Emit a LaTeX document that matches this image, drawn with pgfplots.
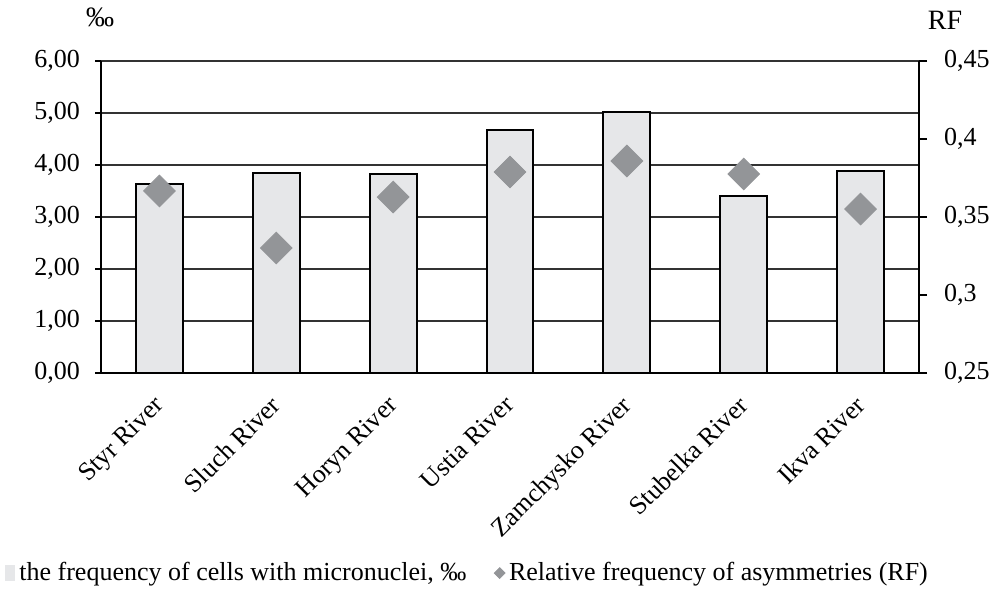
\documentclass[border=0pt]{standalone}
\usepackage{pgfplots}
\pgfplotsset{compat=1.18}
\usepackage{fontspec}
\setmainfont{Liberation Serif}
\definecolor{barfill}{HTML}{E6E7E9}
\definecolor{diam}{HTML}{939598}
\definecolor{gridc}{HTML}{333333}

\pgfplotstableread{
x mn rf
0 3.63 0.3667
1 3.85 0.3301
2 3.83 0.3628
3 4.67 0.3788
4 5.02 0.3859
5 3.40 0.3776
6 3.88 0.3551
}\rivers

\begin{document}
\begin{tikzpicture}
\pgfplotsset{
  every axis/.append style={
    scale only axis,
    width=409pt, height=156pt,
    xmin=-0.5, xmax=6.5,
    font=\fontsize{13}{15}\selectfont,
    tick label style={font=\fontsize{13}{15}\selectfont},
    /pgf/number format/assume math mode=true,
    tick align=outside,
    major tick length=3pt,
    axis line style={line width=1pt},
  }
}
\begin{axis}[
  name=ax1,
  axis y line*=left,
  axis x line*=bottom,
  ymin=0, ymax=6,
  ytick={0,1,...,6},
  ymajorgrids,
  grid style={gridc, line width=0.55pt},
  yticklabel style={xshift=-4pt, /pgf/number format/.cd, use comma, fixed, fixed zerofill, precision=2},
  xtick={0,...,6},
  xticklabels={Styr River, Sluch River, Horyn River, Ustia River, Zamchysko River, Stubelka River, Ikva River},
  x tick label style={anchor=north east, inner sep=1pt, xshift=-3.5pt, yshift=-6pt, rotate=45},
  xtick style={draw=none},
  minor xtick={-0.5,0.5,...,6.5},
  minor tick length=3pt,
  minor x tick style={black, line width=0.6pt},
  ytick style={black, line width=0.6pt},
  legend columns=2,
  legend style={draw=none, at={(rel axis cs:0,0)}, anchor=north west, xshift=-51pt, yshift=-90.5pt,
    font=\fontsize{13}{15}\selectfont, /tikz/every even column/.append style={column sep=12pt}},
  legend cell align=left,
]
\addplot[ybar, bar width=0.4, fill=barfill, draw=black, line width=1pt,
  legend image code/.code={\fill[barfill] (0pt,-3.5pt) rectangle (4pt,3.5pt);}]
  table[x=x, y=mn] {\rivers};
\addlegendentry{the frequency of cells with micronuclei, ‰}
\addlegendimage{only marks, mark=square*, mark size=1.9pt, mark options={rotate=45}, color=diam}
\addlegendentry{Relative frequency of asymmetries (RF)}
\end{axis}
\begin{axis}[
  axis y line*=right,
  axis x line=none,
  ymin=0.25, ymax=0.45,
  ytick={0.25,0.3,0.35,0.4,0.45},
  yticklabel style={xshift=5pt, /pgf/number format/.cd, use comma, fixed, precision=2},
  ytick style={black, line width=0.6pt},
  major tick length=4pt,
]
\addplot[only marks, mark=square*, mark size=5.6pt, mark options={rotate=45}, color=diam]
  table[x=x, y=rf] {\rivers};
\end{axis}
\node[font=\fontsize{14}{16}\selectfont] at ([xshift=-0.5pt, yshift=22pt]ax1.north west) {‰};
\node[font=\fontsize{14}{16}\selectfont] at ([xshift=13pt, yshift=20.5pt]ax1.north east) {RF};
\pgfresetboundingbox
\path[use as bounding box] ([xshift=-50.5pt, yshift=-111pt]ax1.south west)
  rectangle ([xshift=36pt, yshift=30.5pt]ax1.north east);
\end{tikzpicture}
\end{document}
